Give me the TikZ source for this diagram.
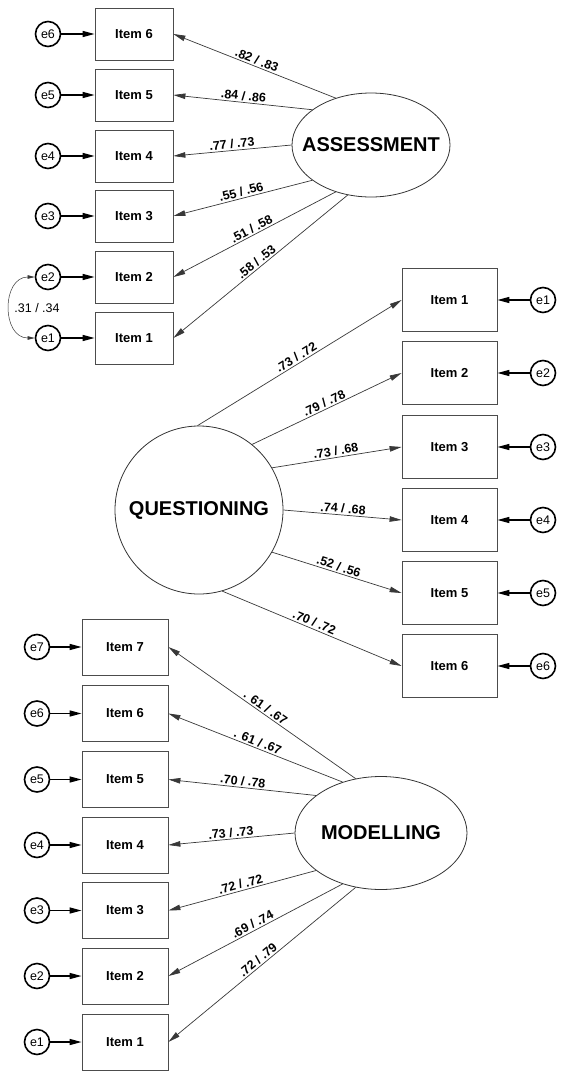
\documentclass[tikz,border=0pt]{standalone}
\usepackage{fontspec}
\setmainfont{Liberation Sans}
\usetikzlibrary{arrows.meta,shapes.geometric}
\definecolor{edgegray}{gray}{0.22}
\definecolor{boxgray}{gray}{0.3}
\newcommand{\lvname}[1]{\makebox[0pt]{#1}}

\begin{document}
\begin{tikzpicture}[x=1pt,y=-1pt,
  item/.style={draw=boxgray, line width=.8pt, inner sep=0pt, font=\fontsize{13}{15}\selectfont\bfseries},
  aitem/.style={item, minimum width=78pt, minimum height=52pt},
  qitem/.style={item, minimum width=95pt, minimum height=63pt},
  mitem/.style={item, minimum width=86pt, minimum height=56pt},
  err/.style={circle, draw, line width=1.6pt, minimum size=25pt, inner sep=0pt, font=\fontsize{12.5}{14}\selectfont},
  errarrow/.style={line width=1.4pt, -{Triangle[length=12pt,width=6pt]}},
  load/.style={draw=edgegray, line width=.7pt, -{Triangle[length=12pt,width=5.5pt]}},
  coef/.style={font=\fontsize{12.5}{14}\selectfont\bfseries, sloped, above, inner sep=1.5pt, pos=.5},
  latent/.style={draw=black!80, line width=.8pt, inner sep=0pt, font=\fontsize{20}{24}\selectfont\bfseries}
]
\useasboundingbox (0,0) rectangle (563,1079);

\node[latent, ellipse, minimum width=158pt, minimum height=104pt] (assess) at (371,145) {\lvname{ASSESSMENT}};
\node[aitem] (ai6) at (134,34) {Item 6};
\node[aitem] (ai5) at (134,95) {Item 5};
\node[aitem] (ai4) at (134,156) {Item 4};
\node[aitem] (ai3) at (134,216) {Item 3};
\node[aitem] (ai2) at (134,277) {Item 2};
\node[aitem] (ai1) at (134,338) {Item 1};
\node[err] (ae6) at (48,34) {e6};
\node[err] (ae5) at (48,95) {e5};
\node[err] (ae4) at (48,156) {e4};
\node[err] (ae3) at (48,216) {e3};
\node[err] (ae2) at (48,277) {e2};
\node[err] (ae1) at (48,338) {e1};
\draw[errarrow] (ae6) -- (ai6);
\draw[errarrow] (ae5) -- (ai5);
\draw[errarrow] (ae4) -- (ai4);
\draw[errarrow] (ae3) -- (ai3);
\draw[errarrow] (ae2) -- (ai2);
\draw[errarrow] (ae1) -- (ai1);
\draw[load] (assess.127) -- (ai6.east) node[coef] {.82 / .83};
\draw[load] (assess.149) -- (ai5.east) node[coef] {.84 / .86};
\draw[load] (assess.180) -- (ai4.east) node[coef] {.77 / .73};
\draw[load] (assess.211) -- (ai3.east) node[coef] {.55 / .56};
\draw[load] (assess.233) -- (ai2.east) node[coef] {.51 / .58};
\draw[load] (assess.245) -- (ai1.east) node[coef] {.58 / .53};
\draw[edgegray, line width=.5pt, {Triangle[length=7pt,width=3.5pt]}-{Triangle[length=7pt,width=3.5pt]}]
  (ae2.west) to[out=180, in=180, looseness=1.4] (ae1.west);
\node[font=\fontsize{12.5}{14}\selectfont] (corr) at (37,308) {.31 / .34};

\node[latent, circle, minimum size=168pt] (quest) at (199,510) {QUESTIONING};
\node[qitem] (qi1) at (449.5,300) {Item 1};
\node[qitem] (qi2) at (449.5,373) {Item 2};
\node[qitem] (qi3) at (449.5,447) {Item 3};
\node[qitem] (qi4) at (449.5,520) {Item 4};
\node[qitem] (qi5) at (449.5,593) {Item 5};
\node[qitem] (qi6) at (449.5,666) {Item 6};
\node[err] (qe1) at (543,300) {e1};
\node[err] (qe2) at (543,373) {e2};
\node[err] (qe3) at (543,447) {e3};
\node[err] (qe4) at (543,520) {e4};
\node[err] (qe5) at (543,593) {e5};
\node[err] (qe6) at (543,666) {e6};
\draw[errarrow] (qe1) -- (qi1);
\draw[errarrow] (qe2) -- (qi2);
\draw[errarrow] (qe3) -- (qi3);
\draw[errarrow] (qe4) -- (qi4);
\draw[errarrow] (qe5) -- (qi5);
\draw[errarrow] (qe6) -- (qi6);
\draw[load] (quest.91) -- (qi1.west) node[coef] {.73 / .72};
\draw[load] (quest.51) -- (qi2.west) node[coef] {.79 / .78};
\draw[load] (quest.30) -- (qi3.west) node[coef] {.73 / .68};
\draw[load] (quest.0) -- (qi4.west) node[coef] {.74 / .68};
\draw[load] (quest.-30) -- (qi5.west) node[coef] {.52 / .56};
\draw[load] (quest.-74) -- (qi6.west) node[coef] {.70 / .72};

\node[latent, ellipse, minimum width=172pt, minimum height=113pt] (model) at (381,833) {\lvname{MODELLING}};
\node[mitem] (mi7) at (125,647) {Item 7};
\node[mitem] (mi6) at (125,713.5) {Item 6};
\node[mitem] (mi5) at (125,779.5) {Item 5};
\node[mitem] (mi4) at (125,845) {Item 4};
\node[mitem] (mi3) at (125,910.5) {Item 3};
\node[mitem] (mi2) at (125,976) {Item 2};
\node[mitem] (mi1) at (125,1042) {Item 1};
\node[err] (me7) at (37,647) {e7};
\node[err] (me6) at (37,713.5) {e6};
\node[err] (me5) at (37,779.5) {e5};
\node[err] (me4) at (37,845) {e4};
\node[err] (me3) at (37,910.5) {e3};
\node[err] (me2) at (37,976) {e2};
\node[err] (me1) at (37,1042) {e1};
\draw[errarrow] (me7) -- (mi7);
\draw[errarrow] (me6) -- (mi6);
\draw[errarrow] (me5) -- (mi5);
\draw[errarrow] (me4) -- (mi4);
\draw[errarrow] (me3) -- (mi3);
\draw[errarrow] (me2) -- (mi2);
\draw[errarrow] (me1) -- (mi1);
\draw[load] (model.115) -- (mi7.east) node[coef] {. 61 / .67};
\draw[load] (model.127) -- (mi6.east) node[coef] {. 61 / .67};
\draw[load] (model.150) -- (mi5.east) node[coef] {.70 / .78};
\draw[load] (model.180) -- (mi4.east) node[coef] {.73 / .73};
\draw[load] (model.210) -- (mi3.east) node[coef] {.72 / .72};
\draw[load] (model.233) -- (mi2.east) node[coef] {.69 / .74};
\draw[load] (model.245) -- (mi1.east) node[coef] {.72 / .79};
\end{tikzpicture}
\end{document}
